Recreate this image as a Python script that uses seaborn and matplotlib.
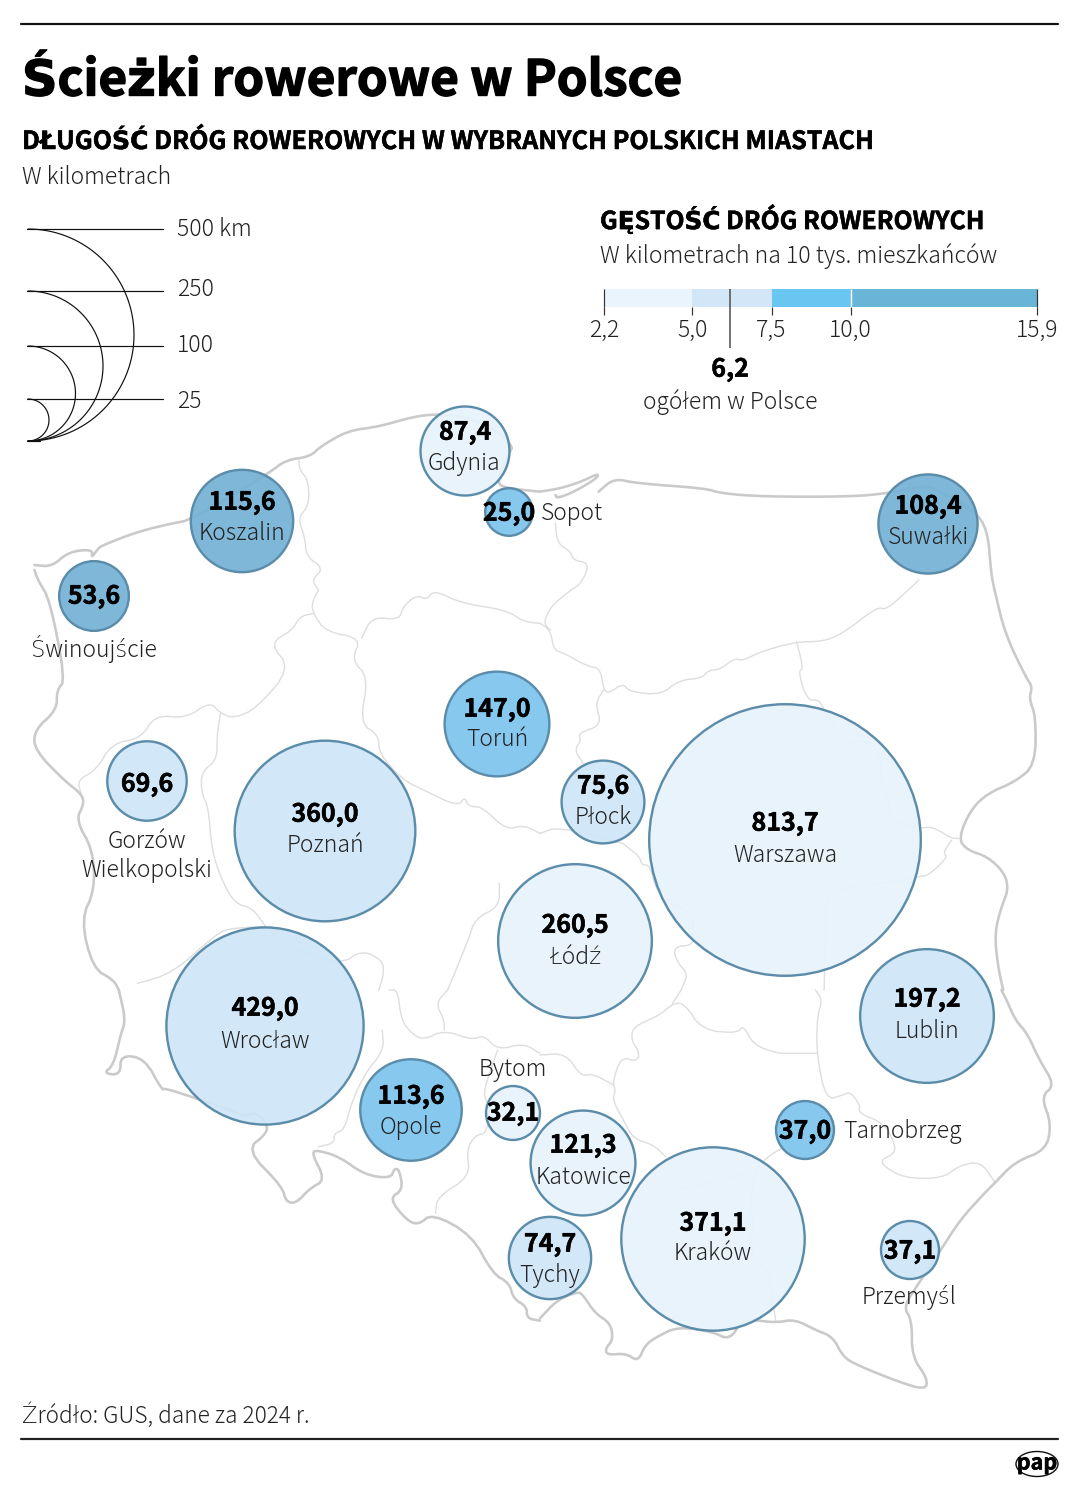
import numpy as np
import pandas as pd
import matplotlib
matplotlib.use("Agg")
import matplotlib.pyplot as plt
import matplotlib.patheffects as pe
from matplotlib.patches import Ellipse
import seaborn as sns

sns.set_theme(style="white")
FONT = ["Noto Sans CJK JP", "DejaVu Sans"]
plt.rcParams["font.family"] = FONT

# ---------- data ----------
cities = ["Gdynia", "Sopot", "Koszalin", "Świnoujście", "Suwałki", "Toruń", "Płock", "Warszawa", "Łódź",
          "Poznań", "Gorzów\nWielkopolski", "Wrocław", "Opole", "Bytom", "Katowice", "Tychy", "Kraków",
          "Tarnobrzeg", "Lublin", "Przemyśl"]
km = [87.4, 25.0, 115.6, 53.6, 108.4, 147.0, 75.6, 813.7, 260.5, 360.0, 69.6, 429.0, 113.6, 32.1, 121.3,
      74.7, 371.1, 37.0, 197.2, 37.1]
# The reference draws Toruń smaller than its figure implies, so the bubble area has its own column.
drawn_km = [87.4, 25.0, 115.6, 53.6, 108.4, 121.0, 75.6, 813.7, 260.5, 360.0, 69.6, 429.0, 113.6, 32.1,
            121.3, 74.7, 371.1, 37.0, 197.2, 37.1]
density_class = ["a", "c", "d", "d", "d", "c", "b", "a", "a", "b", "b", "b", "c", "a", "a", "b", "a", "c", "b", "b"]
map_x = [465, 509, 242, 94, 928, 497, 603, 785, 575, 325, 147, 265, 411, 513, 583, 550, 713, 805, 927, 910]
map_y = [451, 512, 521, 596, 524, 724, 802, 840, 941, 831, 781, 1026, 1110, 1113, 1163, 1258, 1239, 1130, 1016, 1250]
value_y = [431, 512, 501, 595, 505, 708, 785, 822, 924, 813, 783, 1007, 1095, 1112, 1144, 1243, 1222, 1130, 998, 1250]
name_x = [464, 541, 242, 94, 928, 497, 603, 785, 575, 325, 147, 265, 411, 513, 583, 550, 713, 843, 927, 909]
name_y = [462, 512, 532, 647, 535, 738, 815, 854, 956, 844, 854, 1040, 1126, 1067, 1176, 1274, 1252, 1130, 1029, 1295]
name_ha = ["center", "left", "center", "center", "center", "center", "center", "center", "center", "center",
           "center", "center", "center", "center", "center", "center", "center", "left", "center", "center"]

class_colors = {"a": "#E8F3FC", "b": "#CFE6F8", "c": "#7DC4EE", "d": "#74B1D5"}
density_breaks = [2.2, 5.0, 7.5, 10.0, 15.9]
density_labels = ["2,2", "5,0", "7,5", "10,0", "15,9"]
density_colors = ["#EAF4FC", "#D2E6F7", "#68C6F0", "#68B5D7"]
density_total = 6.2

legend_km = ["500 km", "250", "100", "25"]
legend_top_y = [229, 291, 346, 399]
legend_label_y = [228, 287, 343, 399]

SX, SY = 2.904, 3.0
coast_parts = [
    (0, 190, [(100, 1125), (150, 1130), (200, 1085), (270, 1078), (265, 1105), (285, 1075), (300, 1065), (400, 1025),
              (500, 1000), (555, 990), (780, 850), (830, 810), (900, 800), (930, 770), (1010, 722), (1100, 710),
              (1200, 680), (1270, 672), (1350, 680), (1440, 720), (1490, 770), (1480, 785), (1440, 880), (1475, 895), (1568, 905)]),
    (540, 190, [(0, 905), (60, 895), (120, 875), (170, 850), (165, 865), (100, 905), (50, 925), (45, 915)]),
    (540, 190, [(170, 905), (215, 865), (280, 880), (480, 895), (525, 910), (650, 920), (900, 920), (1010, 910), (1120, 885),
                (1170, 910), (1260, 960), (1300, 1020), (1310, 1150), (1320, 1200)]),
    (540, 590, [(1320, 0), (1350, 130), (1410, 260), (1430, 290), (1420, 325), (1440, 380), (1438, 525), (1380, 575), (1300, 610),
                (1250, 660), (1215, 745), (1240, 780), (1300, 800), (1350, 850), (1360, 900), (1340, 950), (1320, 1030), (1330, 1130), (1345, 1200)]),
    (540, 990, [(1340, 0), (1355, 30), (1380, 90), (1415, 130), (1450, 210), (1495, 285), (1455, 320), (1485, 400), (1470, 480), (1380, 515),
                (1320, 580), (1290, 610), (1220, 690), (1170, 770), (1100, 880), (1055, 950), (1080, 990), (1080, 1100), (1125, 1165),
                (1120, 1200), (1040, 1175), (920, 1125), (880, 1100), (850, 1040), (800, 1020), (740, 988), (685, 998), (620, 990),
                (585, 995), (550, 1050), (500, 1025), (400, 1010), (340, 1040), (305, 1065), (285, 1115), (250, 1090), (195, 1095),
                (190, 1075), (212, 1050), (205, 1000), (160, 970), (125, 915), (110, 905), (50, 930), (0, 985)]),
    (0, 990, [(1568, 992), (1530, 985), (1530, 950), (1490, 925), (1480, 880), (1430, 850), (1370, 735), (1255, 670), (1215, 705),
              (1180, 690), (1130, 625), (1170, 600), (1160, 540), (1145, 535), (1135, 565), (1060, 555), (985, 500), (920, 480),
              (905, 490), (945, 570), (900, 595), (860, 640), (830, 635), (820, 590), (715, 480), (775, 430), (775, 400), (740, 365),
              (710, 380), (680, 365), (570, 325), (480, 295), (470, 300), (420, 205), (350, 195), (350, 255), (300, 250), (330, 225),
              (350, 135), (365, 90), (345, 0)]),
    (0, 590, [(345, 1200), (330, 1170), (270, 1135), (235, 990), (275, 900), (270, 780), (220, 690), (245, 640), (235, 610), (190, 575),
              (100, 480), (100, 420), (165, 360), (165, 300), (190, 270), (145, 30), (110, -30), (100, -60)]),
]
inner_parts = [
    (0, 190, [(868, 810), (870, 840), (895, 870), (898, 945), (865, 985), (885, 1040), (890, 1100), (940, 1135), (905, 1170), (925, 1200)]),
    (0, 590, [(925, 0), (905, 40), (910, 70), (945, 125), (1050, 145), (1020, 210), (1070, 260), (1045, 400), (1100, 435), (1100, 490),
              (1170, 570), (1230, 600), (1330, 650), (1350, 620), (1360, 650), (1400, 650), (1470, 720), (1520, 705), (1568, 730)]),
    (0, 590, [(910, 70), (870, 80), (850, 120), (782, 160), (845, 235), (745, 355), (680, 385), (640, 370), (610, 335), (540, 385),
              (450, 375), (410, 445), (325, 460), (280, 540), (225, 570), (235, 610)]),
    (0, 590, [(640, 370), (630, 440), (630, 510), (585, 545), (585, 610), (605, 650), (615, 780), (640, 860), (680, 940), (735, 955),
              (770, 1010), (830, 1070), (990, 1125), (1050, 1080), (1110, 1110), (1115, 1150), (1100, 1200)]),
    (0, 590, [(400, 1180), (500, 1150), (620, 1040), (660, 1015), (770, 1010)]),
    (0, 990, [(1110, 120), (1115, 180), (1060, 250), (1020, 340), (1000, 420), (970, 430), (970, 460), (925, 470)]),
    (0, 990, [(1130, 0), (1155, 0), (1165, 90), (1195, 130), (1230, 150), (1290, 120), (1370, 150), (1405, 135), (1445, 180), (1520, 160), (1568, 190)]),
    (0, 990, [(1290, 120), (1290, 90), (1265, 40), (1300, 0)]),
    (0, 590, [(1300, 1200), (1360, 1050), (1380, 985), (1450, 950), (1450, 880)]),
    (0, 590, [(1050, 145), (1080, 80), (1160, 90), (1170, 50), (1210, 15), (1240, 30), (1260, 0), (1340, 40), (1470, 60), (1520, 95), (1568, 100)]),
    (540, 590, [(0, 100), (30, 120), (40, 180), (70, 190), (140, 230), (175, 235), (185, 300), (200, 310), (240, 280), (260, 305), (350, 315),
                (405, 270), (470, 265), (490, 240), (520, 240), (565, 205), (590, 212), (640, 185), (745, 155), (820, 155), (880, 130), (980, 50),
                (1005, 60), (1070, 0), (1100, -30)]),
    (540, 190, [(45, 1000), (50, 1060), (90, 1085), (95, 1110), (145, 1120), (120, 1180), (90, 1200)]),
    (540, 590, [(90, 0), (30, 50), (10, 100), (30, 120)]),
    (540, 590, [(185, 300), (160, 340), (180, 405), (110, 430), (120, 450), (100, 480), (125, 520)]),
    (540, 590, [(745, 155), (765, 235), (750, 245), (775, 330), (810, 330), (820, 350), (860, 420), (880, 460), (950, 450), (990, 500),
                (990, 590), (1015, 640), (1020, 690), (1050, 700), (1105, 715), (1140, 710), (1195, 745), (1215, 745)]),
    (540, 590, [(1195, 750), (1170, 790), (1185, 800), (1130, 855), (1100, 860), (1060, 870), (830, 900), (830, 1000), (825, 1200)]),
    (540, 990, [(800, 0), (820, 30), (805, 80), (803, 190), (830, 330), (880, 315), (900, 305), (930, 345), (925, 370), (1000, 400), (1030, 460),
                (1030, 490), (990, 510), (1000, 530), (1060, 565), (1170, 565), (1220, 525), (1280, 515), (1320, 575)]),
    (540, 990, [(803, 190), (720, 190), (690, 190), (620, 165), (590, 105), (575, 130), (470, 120), (420, 40), (385, 40), (350, 75), (270, 110),
                (265, 150), (290, 190), (280, 215), (235, 200), (210, 280), (220, 300), (210, 330), (245, 395), (270, 445), (330, 465), (365, 500)]),
    (540, 990, [(380, 600), (490, 580), (630, 540), (655, 505), (700, 475)]),
    (540, 990, [(630, 540), (610, 620), (620, 700), (610, 790), (665, 850), (670, 900), (685, 995)]),
    (540, 590, [(240, 760), (290, 800), (295, 825), (320, 825), (340, 915), (440, 970), (445, 1000), (450, 1065), (385, 1070), (400, 1120), (430, 1150), (410, 1200)]),
    (540, 590, [(0, 730), (55, 710), (240, 760)]),
    (540, 990, [(410, 0), (385, 40)]),
    (0, 990, [(1445, 180), (1405, 300), (1410, 330), (1420, 345), (1415, 430), (1380, 435), (1355, 480), (1365, 560), (1270, 620), (1265, 670)]),
    (540, 990, [(0, 195), (75, 190), (120, 260), (150, 250), (215, 285)]),
]

# ---------- figure ----------
W, H = 1080, 1490
fig = plt.figure(figsize=(W / 100, H / 100), dpi=100, facecolor="white")
ax = fig.add_axes([0, 0, 1, 1])
ax.set_xlim(0, W)
ax.set_ylim(H, 0)
ax.axis("off")
PX = 0.72  # points per pixel
DY = 2     # vertical centring offset of the font, px


def to_px(part, rounds=2):
    """Crop pixels to figure pixels, with corner cutting so the traced outline stays rounded."""
    ox, oy, pts = part
    p = np.array([[ox + a / SX, oy + b / SY] for a, b in pts], float)
    for _ in range(rounds):
        q = np.empty((2 * (len(p) - 1), 2))
        q[0::2] = 0.75 * p[:-1] + 0.25 * p[1:]
        q[1::2] = 0.25 * p[:-1] + 0.75 * p[1:]
        p = np.vstack([p[:1], q, p[-1:]])
    return p[:, 0], p[:, 1]


for part in inner_parts:
    xs, ys = to_px(part)
    ax.plot(xs, ys, color="#DEDEDE", lw=1.4 * PX, solid_joinstyle="round", zorder=1)
for part in coast_parts:
    xs, ys = to_px(part)
    ax.plot(xs, ys, color="#CACACA", lw=2.6 * PX, solid_joinstyle="round", zorder=1.1)

df = pd.DataFrame({"x": map_x, "y": map_y, "km": km, "drawn": drawn_km, "cls": density_class})
k = 4.76  # px radius per sqrt(km)
smax = (2 * k * np.sqrt(max(drawn_km)) * PX) ** 2
palette = {c: matplotlib.colors.to_rgba(v, 0.92) for c, v in class_colors.items()}
sns.scatterplot(data=df, x="x", y="y", hue="cls", palette=palette, size="drawn", sizes=(0, smax),
                size_norm=(0, max(drawn_km)), edgecolor="#5B8DAB", linewidth=2.4 * PX, legend=False, ax=ax, zorder=3)
ax.set_xlim(0, W)
ax.set_ylim(H, 0)
ax.axis("off")

LIGHT = 16.5
HEAVY = [pe.withStroke(linewidth=0.35, foreground="black")]


def light(x, y, s, size=LIGHT, ha="left", **kw):
    ax.text(x, y + DY, s, fontsize=size, fontweight="light", ha=ha, va="center", color="#222222", zorder=5, family=FONT, **kw)


def bold(x, y, s, size=18, ha="left", stroke=HEAVY, **kw):
    ax.text(x, y + DY, s, fontsize=size, fontweight="bold", ha=ha, va="center", color="black", zorder=5, family=FONT,
            path_effects=stroke, **kw)


for x, vy, v, nm, nx, ny, nha in zip(map_x, value_y, km, cities, name_x, name_y, name_ha):
    bold(x, vy, f"{v:.1f}".replace(".", ","), ha="center")
    light(nx, ny, nm, ha=nha, linespacing=1.2)

# headers
ax.plot([21, 1058], [24, 24], color="#111111", lw=2.2 * PX)
ax.plot([21, 1058], [1438.5, 1438.5], color="#222222", lw=2.2 * PX)
bold(22, 79, "Ścieżki rowerowe w Polsce", size=35.5, stroke=[pe.withStroke(linewidth=1.0, foreground="black")])
bold(22, 139.5, "DŁUGOŚĆ DRÓG ROWEROWYCH W WYBRANYCH POLSKICH MIASTACH", size=18.05)
light(22, 176, "W kilometrach")
light(22, 1414, "Źródło: GUS, dane za 2024 r.", size=16.3)

# bubble-size key
bottom = 441
for lbl, ty, ly in zip(legend_km, legend_top_y, legend_label_y):
    r = (bottom - ty) / 2
    t = np.linspace(-np.pi / 2, np.pi / 2, 200)
    ax.plot(28 + r * np.cos(t), (bottom - r) + r * np.sin(t), color="#111111", lw=1.2 * PX, zorder=2)
    ax.plot([27, 163], [ty, ty], color="#111111", lw=1.2 * PX, zorder=2)
    light(177, ly, lbl)
ax.plot([27, 40], [bottom, bottom], color="#111111", lw=1.2 * PX, zorder=2)

# density scale
bold(600, 217.5, "GĘSTOŚĆ DRÓG ROWEROWYCH", size=17.8)
light(600, 254, "W kilometrach na 10 tys. mieszkańców", size=16.55)
bar_top, bar_bot = 289, 307
lax = fig.add_axes([604 / W, 1 - bar_bot / H, 433 / W, (bar_bot - bar_top) / H])
lax.set_xlim(density_breaks[0], density_breaks[-1])
lax.set_ylim(0, 1)
sns.despine(ax=lax, left=True, bottom=True)
lax.patch.set_alpha(0)
lax.barh([0.5] * 4, np.diff(density_breaks), left=density_breaks[:-1], height=1, color=density_colors, linewidth=0)
lax.vlines(10.0, 0, 1, color="white", lw=1.4 * PX)
lax.set_yticks([])
lax.set_xticks(density_breaks, density_labels, fontsize=LIGHT, fontweight="light", color="#222222", family=FONT)
lax.tick_params(axis="x", length=8 * PX, width=1.2 * PX, color="#333333", pad=3 * PX, bottom=True)
for v in (density_breaks[0], density_breaks[-1]):
    lax.vlines(v, 0, 1, color="#333333", lw=1.2 * PX, clip_on=False)
lax.vlines(density_total, -(348 - bar_bot) / 18, 1, color="#555555", lw=1.6 * PX, clip_on=False)
bold(730, 368, "6,2", ha="center")
light(730, 400, "ogółem w Polsce", ha="center")

# agency mark
ax.add_patch(Ellipse((1037, 1464), 42, 25, fc="white", ec="#111111", lw=1.4 * PX, zorder=4))
bold(1037, 1461, "pap", size=15.5, ha="center")

fig.savefig("out.png", dpi=100, facecolor="white")
